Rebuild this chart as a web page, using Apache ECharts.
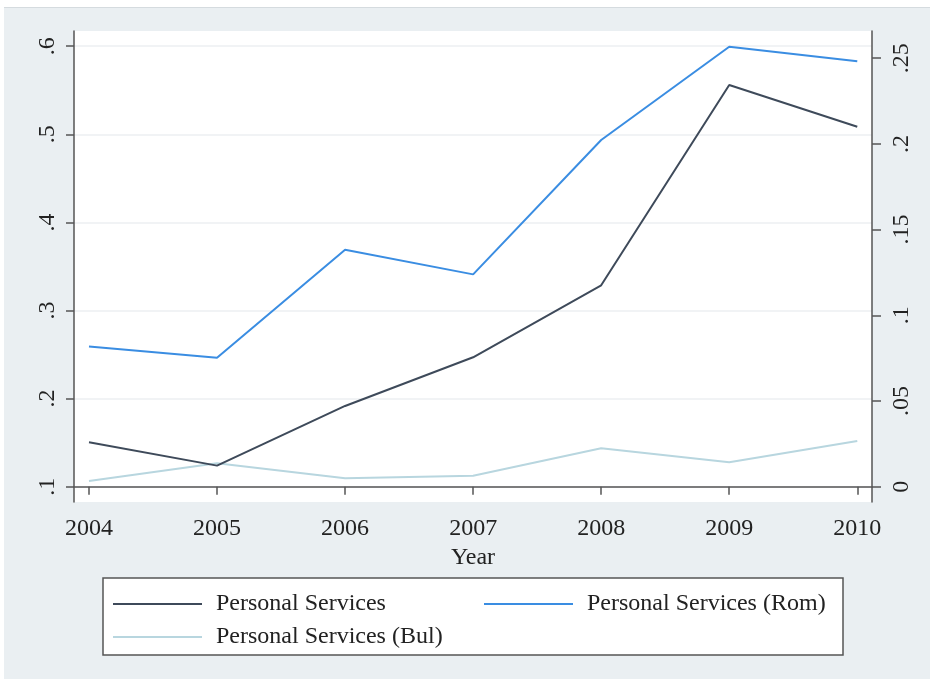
<!DOCTYPE html>
<html>
<head>
<meta charset="utf-8">
<script src="https://cdn.jsdelivr.net/npm/echarts@6/dist/echarts.min.js"></script>
<style>
html,body{margin:0;padding:0;background:#fff;width:930px;height:679px;overflow:hidden;}
#bg{position:absolute;left:4px;top:7px;width:926px;height:672px;background:#eaeff2;border-top:1px solid #d5dbdf;box-sizing:border-box;}
#chart{position:absolute;left:0;top:0;width:930px;height:679px;}
</style>
</head>
<body>
<div id="bg"></div>
<div id="chart"></div>
<script>
// Data
const years = [2004, 2005, 2006, 2007, 2008, 2009, 2010];
const personalServices = [0.0259, 0.0123, 0.0471, 0.0755, 0.1175, 0.2344, 0.2100]; // right axis
const personalServicesRom = [0.259, 0.2464, 0.3690, 0.3410, 0.4935, 0.5994, 0.5829]; // left axis
const personalServicesBul = [0.1065, 0.1266, 0.1095, 0.1125, 0.1436, 0.1277, 0.1519]; // left axis
const leftTicks = [0.1, 0.2, 0.3, 0.4, 0.5, 0.6];
const rightTicks = [0, 0.05, 0.1, 0.15, 0.2, 0.25];
const xTicks = [2004, 2005, 2006, 2007, 2008, 2009, 2010];

function fmt(v) {
  if (v === 0) return '0';
  let s = String(+v.toFixed(3));
  return s.replace(/^0\./, '.');
}
function pairs(vals) { return years.map((y, i) => [y, vals[i]]); }

const FONT = 'Liberation Serif';
const TXT = '#222';
const AX = '#555';
const FS = 24;

const chart = echarts.init(document.getElementById('chart'), null, {renderer: 'canvas'});
chart.setOption({
  animation: false,
  backgroundColor: 'transparent',
  textStyle: {fontFamily: FONT},
  grid: {left: 74, right: 58, top: 31, bottom: 177, show: true, backgroundColor: '#ffffff', borderWidth: 0},
  xAxis: {
    type: 'value', min: 2003.883, max: 2010.115,
    name: 'Year', nameLocation: 'middle', nameGap: 40,
    nameTextStyle: {fontFamily: FONT, fontSize: FS, color: TXT},
    axisLine: {show: true, lineStyle: {color: AX, width: 1.5}},
    axisTick: {show: true, length: 8, lineStyle: {color: AX, width: 1.5}, customValues: xTicks},
    axisLabel: {fontFamily: FONT, fontSize: FS, color: TXT, margin: 15, customValues: xTicks, formatter: v => String(v)},
    splitLine: {show: false}
  },
  yAxis: [
    {
      type: 'value', position: 'left', min: 0.0826, max: 0.6173,
      axisLine: {show: true, lineStyle: {color: AX, width: 1.5}},
      axisTick: {show: true, length: 8, lineStyle: {color: AX, width: 1.5}, customValues: leftTicks},
      axisLabel: {fontFamily: FONT, fontSize: FS, color: TXT, rotate: 90, margin: 14, customValues: leftTicks, formatter: fmt},
      splitLine: {show: true, lineStyle: {color: '#eceff2', width: 1.5}}
    },
    {
      type: 'value', position: 'right', min: -0.00893, max: 0.26587,
      axisLine: {show: true, lineStyle: {color: AX, width: 1.5}},
      axisTick: {show: true, length: 9, lineStyle: {color: AX, width: 1.5}, customValues: rightTicks},
      axisLabel: {fontFamily: FONT, fontSize: FS, color: TXT, rotate: 90, margin: 18, customValues: rightTicks, formatter: fmt},
      splitLine: {show: false}
    }
  ],
  legend: [
    {
      data: ['Personal Services', 'Personal Services (Bul)'],
      orient: 'vertical', left: 113, top: 592, padding: 0, itemGap: 9,
      icon: 'rect', itemWidth: 89, itemHeight: 2,
      textStyle: {fontFamily: FONT, fontSize: FS, color: TXT, lineHeight: 24, padding: [0, 0, 0, 9]},
      selectedMode: false
    },
    {
      data: ['Personal Services (Rom)'],
      orient: 'vertical', left: 484, top: 592, padding: 0,
      icon: 'rect', itemWidth: 89, itemHeight: 2,
      textStyle: {fontFamily: FONT, fontSize: FS, color: TXT, lineHeight: 24, padding: [0, 0, 0, 9]},
      selectedMode: false
    }
  ],
  graphic: [{
    type: 'rect', z: 0,
    shape: {x: 103, y: 578, width: 740, height: 77},
    style: {fill: '#ffffff', stroke: '#555', lineWidth: 1.5}
  }],
  series: [
    {
      name: 'Personal Services', type: 'line', yAxisIndex: 1, data: pairs(personalServices),
      showSymbol: false, symbol: 'none', lineStyle: {color: '#3e4a5a', width: 2}, itemStyle: {color: '#3e4a5a'}, z: 3
    },
    {
      name: 'Personal Services (Rom)', type: 'line', yAxisIndex: 0, data: pairs(personalServicesRom),
      showSymbol: false, symbol: 'none', lineStyle: {color: '#3a8de2', width: 2}, itemStyle: {color: '#3a8de2'}, z: 2
    },
    {
      name: 'Personal Services (Bul)', type: 'line', yAxisIndex: 0, data: pairs(personalServicesBul),
      showSymbol: false, symbol: 'none', lineStyle: {color: '#b8d6df', width: 2}, itemStyle: {color: '#b8d6df'}, z: 1
    }
  ]
});
</script>
</body>
</html>
